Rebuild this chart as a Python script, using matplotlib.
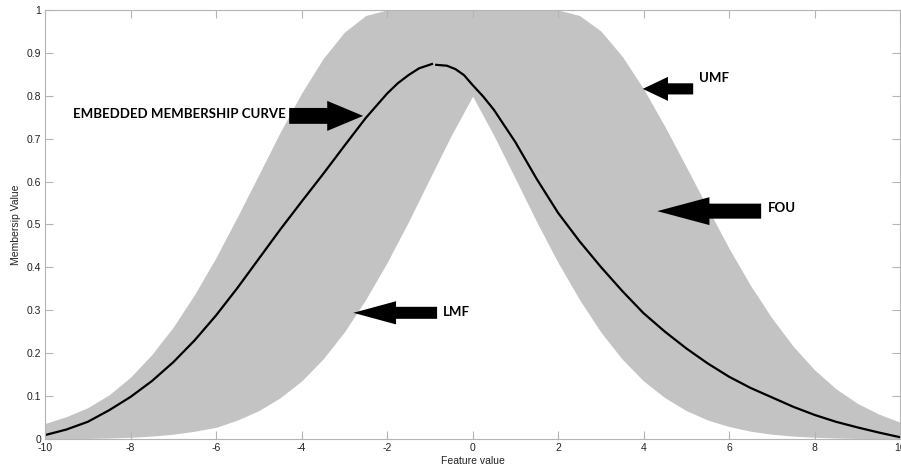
import matplotlib.pyplot as plt
from matplotlib.patches import FancyArrow

plt.rcParams['axes.unicode_minus'] = False

# Valores (paso 0.5 en x)
x_val = [-10, -9.5, -9, -8.5, -8, -7.5, -7, -6.5, -6, -5.5, -5, -4.5, -4, -3.5,
         -3, -2.5, -2, -1.5, -1, -0.5, 0, 0.5, 1, 1.5, 2, 2.5, 3, 3.5, 4, 4.5,
         5, 5.5, 6, 6.5, 7, 7.5, 8, 8.5, 9, 9.5, 10]

umf = [0.036, 0.052, 0.073, 0.103, 0.144, 0.197, 0.261, 0.337, 0.423, 0.518,
       0.616, 0.715, 0.806, 0.886, 0.948, 0.987, 1.0, 1.0, 1.0, 1.0, 1.0,
       1.0, 1.0, 1.0, 1.0, 0.987, 0.951, 0.892, 0.816, 0.728, 0.634, 0.538,
       0.444, 0.358, 0.282, 0.216, 0.161, 0.117, 0.083, 0.058, 0.039]

lmf = [0.0003, 0.0006, 0.0012, 0.0022, 0.0039, 0.0066, 0.011, 0.018, 0.027,
       0.044, 0.066, 0.096, 0.135, 0.186, 0.249, 0.325, 0.411, 0.506, 0.607,
       0.707, 0.799, 0.707, 0.607, 0.506, 0.411, 0.325, 0.249, 0.186, 0.135,
       0.096, 0.066, 0.044, 0.029, 0.018, 0.011, 0.0066, 0.0039, 0.0022,
       0.0012, 0.0006, 0.0003]

# curva embebida (dos tramos, con un hueco cerca del pico)
x_emb1 = [-10, -9.5, -9, -8.5, -8, -7.5, -7, -6.5, -6, -5.5, -5, -4.5, -4,
          -3.5, -3, -2.5, -2, -1.75, -1.5, -1.25, -0.95]
emb1 = [0.009, 0.022, 0.040, 0.067, 0.098, 0.135, 0.179, 0.230, 0.288, 0.352,
        0.420, 0.488, 0.553, 0.617, 0.683, 0.748, 0.805, 0.829, 0.848, 0.864,
        0.874]
x_emb2 = [-0.85, -0.6, -0.4, -0.2, 0, 0.25, 0.5, 1, 1.5, 2, 2.5, 3, 3.5, 4,
          4.5, 5, 5.5, 6, 6.5, 7, 7.5, 8, 8.5, 9, 9.5, 10]
emb2 = [0.872, 0.870, 0.862, 0.848, 0.825, 0.798, 0.767, 0.692, 0.606, 0.527,
        0.461, 0.401, 0.345, 0.293, 0.250, 0.211, 0.176, 0.145, 0.119, 0.097,
        0.075, 0.056, 0.040, 0.027, 0.015, 0.004]

fig = plt.figure(figsize=(9.01, 4.73), dpi=100)
ax = fig.add_axes([0.05, 0.072, 0.949, 0.907])

# FOU
ax.fill_between(x_val, lmf, umf, color='#c3c3c3', linewidth=0)
ax.plot(x_emb1, emb1, color='black', lw=1.6)
ax.plot(x_emb2, emb2, color='black', lw=1.6)

ax.set_xlim(-10, 10)
ax.set_ylim(0, 1)
ax.set_xticks(range(-10, 11, 2))
ax.set_yticks([i / 10 for i in range(11)])
ax.set_yticklabels(['0', '0.1', '0.2', '0.3', '0.4', '0.5', '0.6', '0.7', '0.8', '0.9', '1'])
ax.tick_params(direction='in', length=6, color='#b4b4b4', labelsize=7.5,
               top=True, right=True, labelcolor='#222222', pad=3)
for lab in ax.get_xticklabels() + ax.get_yticklabels():
    lab.set_family('Liberation Sans')
for s in ax.spines.values():
    s.set_color('#b4b4b4')

ax.set_xlabel('Feature value', fontsize=7.5, family='Liberation Sans', labelpad=2, color='#222222')
ax.set_ylabel('Membersip Value', fontsize=7.5, family='Liberation Sans', labelpad=4, color='#222222')

# Flechas
def flecha(x0, x1, y, w, hw, hl):
    ax.add_patch(FancyArrow(x0, y, x1 - x0, 0, width=w, head_width=hw, head_length=hl,
                            length_includes_head=True, color='black', lw=0))

flecha(-4.29, -2.56, 0.753, 0.037, 0.070, 0.84)
flecha(-0.83, -2.79, 0.294, 0.028, 0.054, 1.0)
flecha(5.16, 3.98, 0.816, 0.026, 0.056, 0.59)
flecha(6.75, 4.32, 0.531, 0.035, 0.065, 1.22)

fuente = dict(fontsize=9.5, fontweight='bold', family='Lato', va='center', ha='left')
ax.text(-9.345, 0.758, 'EMBEDDED MEMBERSHIP CURVE', **fuente)
ax.text(-0.69, 0.296, 'LMF', **fuente)
ax.text(5.30, 0.841, 'UMF', **fuente)
ax.text(6.91, 0.538, 'FOU', **fuente)

plt.savefig('out.png', dpi=100)
